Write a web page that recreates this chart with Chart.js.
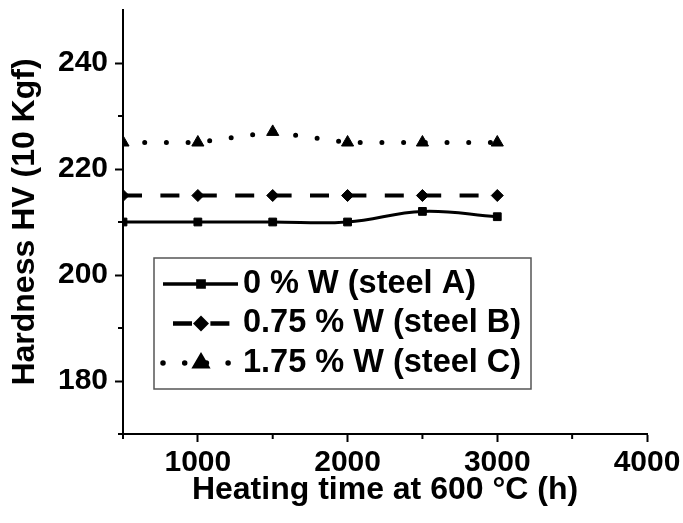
<!DOCTYPE html>
<html>
<head>
<meta charset="utf-8">
<script src="https://cdn.jsdelivr.net/npm/chart.js@4.4.1/dist/chart.umd.min.js"></script>
<style>
html,body{margin:0;padding:0;background:#fff;}
#wrap{width:683px;height:523px;position:relative;}
</style>
</head>
<body>
<div id="wrap"><canvas id="c" width="683" height="523"></canvas></div>
<script>
// ---- data ----
const hours = [500, 1000, 1500, 2000, 2500, 3000];
const steelA = [210, 210, 210, 210, 212, 211];
const steelB = [215, 215, 215, 215, 215, 215];
const steelC = [225, 225, 227, 225, 225, 225];
const seriesNames = ['0 % W (steel A)', '0.75 % W (steel B)', '1.75 % W (steel C)'];
const xLabelled = [1000, 2000, 3000, 4000];
const yLabelled = [180, 200, 220, 240];
const xTitle = 'Heating time at 600 \u00B0C (h)';
const yTitle = 'Hardness HV (10 Kgf)';

const FONT = '"Liberation Sans", Arial, Helvetica, sans-serif';

function pts(ys) { return hours.map((h, i) => ({x: h, y: ys[i]})); }

const minorTicks = {
  id: 'minorTicks',
  afterDraw(chart) {
    const ctx = chart.ctx, xs = chart.scales.x, ys = chart.scales.y;
    ctx.save();
    ctx.strokeStyle = '#000';
    ctx.lineWidth = 2;
    ys.ticks.forEach(t => {
      if (!yLabelled.includes(t.value) && t.value < ys.max) {
        const py = ys.getPixelForValue(t.value);
        ctx.beginPath(); ctx.moveTo(ys.right - 5, py); ctx.lineTo(ys.right, py); ctx.stroke();
      }
    });
    xs.ticks.forEach(t => {
      if (!xLabelled.includes(t.value) && t.value < xs.max) {
        const px = xs.getPixelForValue(t.value);
        ctx.beginPath(); ctx.moveTo(px, xs.top); ctx.lineTo(px, xs.top + 5); ctx.stroke();
      }
    });
    ctx.restore();
  }
};

function drawMarker(ctx, style, r, x, y) {
  if (Chart.helpers && Chart.helpers.drawPoint) {
    Chart.helpers.drawPoint(ctx, {pointStyle: style, radius: r, rotation: 0, borderWidth: 1}, x, y);
  }
}

const boxLegend = {
  id: 'boxLegend',
  afterDatasetsDraw(chart) {
    const ctx = chart.ctx, ca = chart.chartArea;
    const left = ca.left + 31, top = ca.top + 248, w = 377, h = 131;
    ctx.save();
    ctx.fillStyle = '#fff';
    ctx.fillRect(left, top, w, h);
    ctx.strokeStyle = '#555';
    ctx.lineWidth = 1.5;
    ctx.strokeRect(left, top, w, h);
    chart.data.datasets.forEach((ds, i) => {
      const cy = top + 26 + i * 39.5;
      ctx.save();
      ctx.strokeStyle = '#000';
      ctx.lineWidth = ds.borderWidth + 0.5;
      ctx.lineCap = ds.borderCapStyle || 'butt';
      ctx.setLineDash(ds.borderDash || []);
      ctx.lineDashOffset = (ds.borderDash && ds.borderDash[0] > 0) ? -10 : 0;
      ctx.beginPath(); ctx.moveTo(left + 9, cy); ctx.lineTo(left + 84, cy); ctx.stroke();
      ctx.setLineDash([]);
      ctx.fillStyle = '#000'; ctx.strokeStyle = '#000';
      drawMarker(ctx, ds.pointStyle, ds.pointRadius * 0.8, left + 47, cy);
      ctx.restore();
      ctx.fillStyle = '#000';
      ctx.font = 'bold 32.5px ' + FONT;
      ctx.textAlign = 'left';
      ctx.textBaseline = 'middle';
      ctx.fillText(seriesNames[i], left + 89, cy);
    });
    ctx.restore();
  }
};

new Chart(document.getElementById('c'), {
  type: 'line',
  data: {
    datasets: [
      {label: seriesNames[0], data: pts(steelA), borderColor: '#000', backgroundColor: '#000',
       borderWidth: 3, tension: 0.4, pointStyle: 'rect', pointRadius: 5.5,
       pointBackgroundColor: '#000', pointBorderColor: '#000', pointBorderWidth: 1},
      {label: seriesNames[1], data: pts(steelB), borderColor: '#000', backgroundColor: '#000',
       borderWidth: 4, borderDash: [19, 18.4], tension: 0, pointStyle: 'rectRot', pointRadius: 6,
       pointBackgroundColor: '#000', pointBorderColor: '#000', pointBorderWidth: 1},
      {label: seriesNames[2], data: pts(steelC), borderColor: '#000', backgroundColor: '#000',
       borderWidth: 5, borderDash: [0, 21.7], borderCapStyle: 'round', tension: 0, pointStyle: 'triangle', pointRadius: 7,
       pointBackgroundColor: '#000', pointBorderColor: '#000', pointBorderWidth: 1}
    ]
  },
  options: {
    responsive: false,
    animation: false,
    devicePixelRatio: 1,
    layout: {padding: {top: 10, right: 36, left: 0, bottom: 0}},
    plugins: {legend: {display: false}, tooltip: {enabled: false}},
    scales: {
      x: {
        type: 'linear', min: 500, max: 4000,
        afterFit(s) { s.height = 89; s.paddingLeft = 0; s.paddingRight = 0; },
        ticks: {stepSize: 500, autoSkip: false, maxRotation: 0, padding: 3, color: '#000',
          font: {family: FONT, size: 30, weight: 'bold'},
          callback: v => xLabelled.includes(v) ? String(v) : ''},
        grid: {drawOnChartArea: false, drawTicks: true, tickLength: 8, tickWidth: 2,
          tickColor: c => xLabelled.includes(c.tick.value) ? '#000' : 'rgba(0,0,0,0)'},
        border: {display: true, color: '#000', width: 2},
        title: {display: true, text: xTitle, color: '#000', padding: {top: 0, bottom: 14},
          font: {family: FONT, size: 32, weight: 'bold'}}
      },
      y: {
        type: 'linear', min: 170, max: 250,
        afterFit(s) { s.width = 123; s.paddingTop = 0; s.paddingBottom = 0; },
        ticks: {stepSize: 10, autoSkip: false, padding: 7, color: '#000',
          font: {family: FONT, size: 30, weight: 'bold'},
          callback: v => yLabelled.includes(v) ? String(v) : ''},
        grid: {drawOnChartArea: false, drawTicks: true, tickLength: 8, tickWidth: 2,
          tickColor: c => yLabelled.includes(c.tick.value) ? '#000' : 'rgba(0,0,0,0)'},
        border: {display: true, color: '#000', width: 2},
        title: {display: true, text: yTitle, color: '#000', padding: {top: 6, bottom: 0},
          font: {family: FONT, size: 32, weight: 'bold'}}
      }
    }
  },
  plugins: [minorTicks, boxLegend]
});
</script>
</body>
</html>
